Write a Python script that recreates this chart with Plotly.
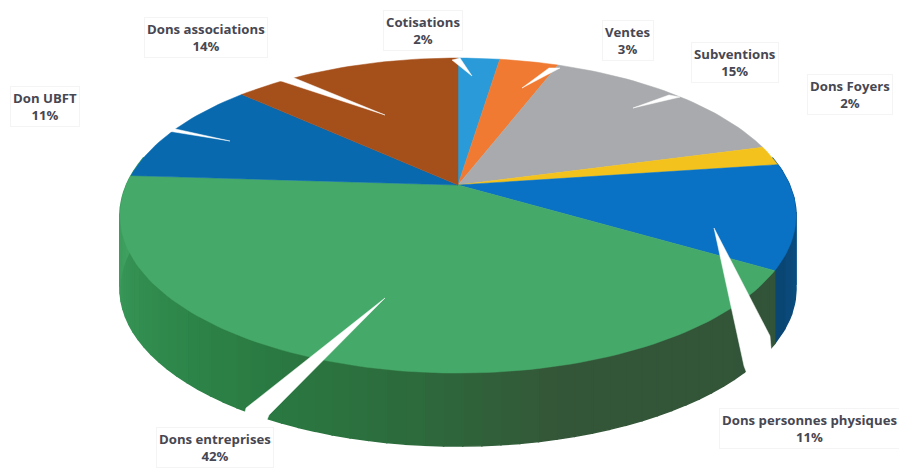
import math
import plotly.graph_objects as go

categories = ["Cotisations", "Ventes", "Subventions", "Dons Foyers",
              "Dons personnes physiques", "Dons entreprises", "Don UBFT", "Dons associations"]
values = [2.4, 3.4, 15.0, 2.0, 10.7, 42.5, 10.8, 13.2]
percent_labels = ["2%", "3%", "15%", "2%", "11%", "42%", "11%", "14%"]

top_colors = ["#2a9bd8", "#f17a32", "#a8aaad", "#f4c21c", "#0a72c4", "#45a969", "#0869ae", "#a54f1b"]

# geometry of the tilted pie (pixel space)
CX, CY, A, B, K, DEPTH = 458, 185, 151.6, 331.6, 0.194, 73
WIDTH, HEIGHT = 899, 468

label_pos = [(423, 30), (628, 40), (735, 62), (850, 94), (809, 428), (215, 447), (45, 106), (206, 37)]
pointers = [
    [(472, 76), (452, 60), (460, 58)],
    [(522, 88), (549, 68), (560, 68)],
    [(633, 108), (669, 95), (680, 97)],
    [(714, 228), (744, 366), (755, 395), (775, 395), (770, 336)],
    [(385, 298), (246, 408), (240, 432), (262, 432), (269, 415)],
    [(230, 141), (168, 131), (171, 128)],
    [(385, 115), (278, 80), (292, 77)],
]


def project(f, drop=0.0):
    a = 2 * math.pi * f
    x, y = math.sin(a), math.cos(a)
    d = 1 + K * y
    return CX + B * x / d, CY - A * y / d + drop


def lerp_color(stops, u):
    for (u0, c0), (u1, c1) in zip(stops, stops[1:]):
        if u <= u1:
            t = (u - u0) / (u1 - u0)
            rgb = [round(c0[i] + (c1[i] - c0[i]) * t) for i in range(3)]
            return "rgb(%d,%d,%d)" % tuple(rgb)
    return "rgb(%d,%d,%d)" % stops[-1][1]


total = sum(values)
cuts = [0]
for v in values:
    cuts.append(cuts[-1] + v / total)

fig = go.Figure()

green_stops = [(0.0, (50, 84, 56)), (0.28, (52, 86, 56)), (0.42, (44, 108, 60)),
               (0.55, (42, 122, 66)), (0.72, (48, 140, 78)), (1.0, (66, 165, 100))]
blue_stops = [(0.0, (8, 92, 155)), (1.0, (10, 70, 115))]


def wall(f0, f1, color):
    n = 6
    fs = [f0 + (f1 - f0) * i / n for i in range(n + 1)]
    upper = [project(f) for f in fs]
    lower = [project(f, DEPTH) for f in reversed(fs)]
    pts = upper + lower
    pts.append(pts[0])
    fig.add_trace(go.Scatter(x=[p[0] for p in pts], y=[p[1] for p in pts], mode="lines",
                             fill="toself", fillcolor=color, line=dict(color=color, width=1.5),
                             hoverinfo="skip", showlegend=False))


# side walls, only the near half shows
f_blue0, f_blue1 = 0.22, cuts[5]
steps = 8
for i in range(steps):
    wall(f_blue0 + (f_blue1 - f_blue0) * i / steps, f_blue0 + (f_blue1 - f_blue0) * (i + 1) / steps,
         lerp_color(blue_stops, i / (steps - 1)))
f_green0, f_green1 = cuts[5], cuts[6] + 0.02
steps = 60
for i in range(steps):
    wall(f_green0 + (f_green1 - f_green0) * i / steps, f_green0 + (f_green1 - f_green0) * (i + 1) / steps,
         lerp_color(green_stops, i / (steps - 1)))

# top surface
for i, cat in enumerate(categories):
    f0, f1 = cuts[i], cuts[i + 1]
    n = max(4, int((f1 - f0) * 240))
    pts = [project(f0 + (f1 - f0) * j / n) for j in range(n + 1)]
    xs = [CX] + [p[0] for p in pts] + [CX]
    ys = [CY] + [p[1] for p in pts] + [CY]
    fig.add_trace(go.Scatter(x=xs, y=ys, mode="lines", fill="toself", fillcolor=top_colors[i],
                             line=dict(color=top_colors[i], width=0.5), name=cat,
                             hoverinfo="name", showlegend=False))

shapes = []
for poly in pointers:
    path = "M " + " L ".join("%g,%g" % p for p in poly) + " Z"
    shapes.append(dict(type="path", path=path, fillcolor="#ffffff", line=dict(color="#ffffff", width=0.5),
                       xref="x", yref="y", layer="above"))

annotations = []
for cat, pct, (lx, ly) in zip(categories, percent_labels, label_pos):
    annotations.append(dict(
        x=lx, y=ly, xref="x", yref="y", yanchor="middle", xanchor="center",
        text="<b>%s</b><br><b>%s</b>" % (cat, pct), showarrow=False, align="center",
        font=dict(family="Open Sans", size=13.2, color="#474752"),
        bgcolor="#ffffff", bordercolor="#f4f4f4", borderwidth=1, borderpad=2))

fig.update_layout(
    width=WIDTH, height=HEIGHT, autosize=False,
    margin=dict(l=0, r=0, t=0, b=0),
    paper_bgcolor="#ffffff", plot_bgcolor="#ffffff",
    shapes=shapes, annotations=annotations, showlegend=False,
    xaxis=dict(range=[0, WIDTH], visible=False, fixedrange=True),
    yaxis=dict(range=[HEIGHT, 0], visible=False, fixedrange=True),
)
fig.write_html("out.html", config={"displayModeBar": False},
               post_script="document.body.style.margin='0';document.body.style.overflow='hidden';")
